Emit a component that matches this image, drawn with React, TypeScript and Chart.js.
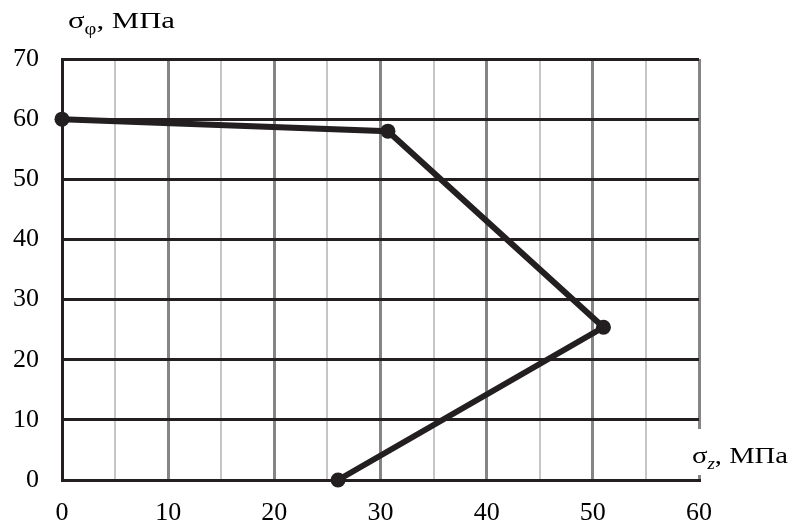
import React, { useEffect, useRef } from "react";
import { Chart, registerables } from "chart.js";

Chart.register(...registerables);

const sigmaZ = [0, 30.7, 51, 26];
const sigmaPhi = [60, 58, 25.4, 0];
const xTicks = [0, 10, 20, 30, 40, 50, 60];
const yTicks = [0, 10, 20, 30, 40, 50, 60, 70];
const yTitle = { main: "σ", sub: "φ", rest: ", МПа" };
const xTitle = { main: "σ", sub: "z", rest: ", МПа" };

const FONT = "'Liberation Serif', 'Times New Roman', serif";

function drawTitle(ctx: any, t: any, x: number, baseline: number, targetW: number, subItalic: boolean, bg: boolean) {
  ctx.save();
  ctx.textBaseline = "alphabetic";
  ctx.textAlign = "left";
  ctx.font = `24px ${FONT}`;
  const w1 = ctx.measureText(t.main).width;
  ctx.font = `${subItalic ? "italic " : ""}16px ${FONT}`;
  const w2 = ctx.measureText(t.sub).width;
  ctx.font = `24px ${FONT}`;
  const w3 = ctx.measureText(t.rest).width;
  const total = w1 + w2 + w3;
  const s = targetW / total;
  if (bg) {
    ctx.fillStyle = "#fff";
    ctx.fillRect(x - 3, baseline - 34, targetW + 6, 46);
  }
  ctx.translate(x, baseline);
  ctx.scale(s, 1);
  ctx.fillStyle = "#000";
  let xx = 0;
  ctx.font = `24px ${FONT}`;
  ctx.fillText(t.main, xx, 0);
  xx += w1;
  ctx.font = `${subItalic ? "italic " : ""}16px ${FONT}`;
  ctx.fillText(t.sub, xx, 6);
  xx += w2;
  ctx.font = `24px ${FONT}`;
  ctx.fillText(t.rest, xx, 0);
  ctx.restore();
}

const labelsPlugin = {
  id: "axisTitles",
  afterDraw(chart: any) {
    const ctx = chart.ctx;
    drawTitle(ctx, yTitle, 68, 28, 107, false, false);
    drawTitle(ctx, xTitle, 692, 463, 96, true, true);
  },
};

export default function App() {
  const ref = useRef<HTMLCanvasElement | null>(null);
  useEffect(() => {
    if (!ref.current) return;
    const data = sigmaZ.map((v, i) => ({ x: v, y: sigmaPhi[i] }));
    const chart = new Chart(ref.current, {
      type: "scatter",
      data: {
        datasets: [
          {
            data,
            showLine: true,
            borderColor: "#231f20",
            backgroundColor: "#231f20",
            borderWidth: 6,
            pointRadius: 7.5,
            pointBorderWidth: 0,
            pointBackgroundColor: "#231f20",
            clip: false as any,
          },
        ],
      },
      options: {
        responsive: false,
        animation: false,
        layout: { padding: { top: 59, right: 95, left: 0, bottom: 0 } },
        plugins: { legend: { display: false }, tooltip: { enabled: false } },
        scales: {
          x: {
            type: "linear",
            min: 0,
            max: 60,
            afterBuildTicks: (scale: any) => {
              const t: any[] = [];
              for (let v = 0; v <= 60; v += 5) t.push({ value: v });
              scale.ticks = t;
            },
            afterFit: (scale: any) => {
              scale.height = 46;
            },
            ticks: {
              autoSkip: false,
              maxRotation: 0,
              padding: 18,
              color: "#000",
              font: { family: FONT, size: 26 },
              callback: (v: any) => (xTicks.includes(v) ? String(v) : ""),
            },
            grid: {
              drawTicks: false,
              color: (c: any) => (c.tick && c.tick.value % 10 === 0 ? "#858585" : "#c6c6c6"),
              lineWidth: (c: any) => (c.tick && c.tick.value % 10 === 0 ? 3 : 2),
            },
            border: { display: true, color: "#231f20", width: 3 },
          },
          y: {
            type: "linear",
            min: 0,
            max: 70,
            afterBuildTicks: (scale: any) => {
              scale.ticks = yTicks.map((v) => ({ value: v }));
            },
            afterFit: (scale: any) => {
              scale.width = 62;
            },
            ticks: {
              padding: 23,
              color: "#000",
              font: { family: FONT, size: 26 },
            },
            grid: {
              drawTicks: false,
              color: "#231f20",
              lineWidth: 3,
            },
            border: { display: true, color: "#231f20", width: 3 },
          },
        },
      },
      plugins: [labelsPlugin],
    });
    return () => chart.destroy();
  }, []);
  return (
    <div style={{ position: "absolute", left: 0, top: 0, width: 794, height: 526, background: "#fff" }}>
      <canvas ref={ref} width={794} height={526} style={{ width: 794, height: 526 }} />
    </div>
  );
}
